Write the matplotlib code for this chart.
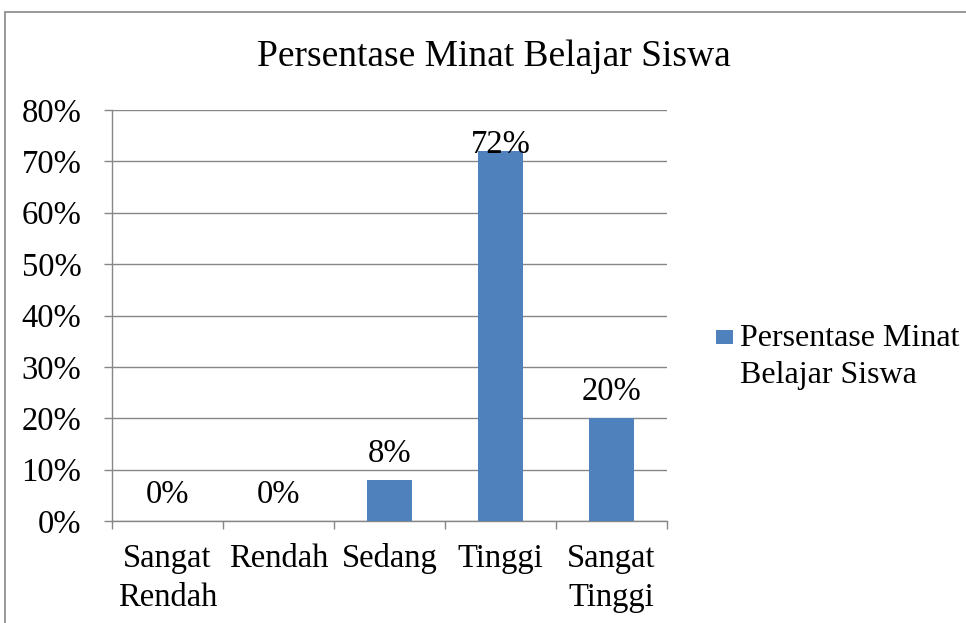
import matplotlib
matplotlib.use("Agg")
import matplotlib.pyplot as plt
from matplotlib.patches import Rectangle
from matplotlib.ticker import FuncFormatter, FixedLocator

categories = ["Sangat\nRendah", "Rendah", "Sedang", "Tinggi", "Sangat\nTinggi"]
values = [0.0, 0.0, 0.08, 0.72, 0.20]
value_labels = ["0%", "0%", "8%", "72%", "20%"]
series_name = "Persentase Minat Belajar Siswa"
legend_text = "Persentase Minat\nBelajar Siswa"
title = "Persentase Minat Belajar Siswa"
yticks = [0, 0.1, 0.2, 0.3, 0.4, 0.5, 0.6, 0.7, 0.8]

plt.rcParams["font.family"] = ["Liberation Serif", "DejaVu Serif"]
BAR = "#4F81BD"
GRID = "#868686"
FS = 23.5

fig = plt.figure(figsize=(9.66, 6.23), dpi=100)
fig.patch.set_facecolor("white")
# outer chart border
fig.patches.append(Rectangle((5 / 966, -0.1), 1.2, (623 - 12) / 623 + 0.1,
                             transform=fig.transFigure, fill=False,
                             edgecolor=GRID, lw=1.2))

ax = fig.add_axes([112 / 966, (623 - 521) / 623, (667 - 112) / 966, (521 - 110) / 623])
x = list(range(len(categories)))
ax.bar(x, values, width=0.4, color=BAR, zorder=3)
ax.set_xlim(-0.5, len(categories) - 0.5)
ax.set_ylim(0, 0.8)
ax.set_yticks(yticks)
ax.yaxis.set_major_formatter(FuncFormatter(lambda v, p: f"{v*100:.0f}%"))
ax.grid(axis="y", color=GRID, lw=1, zorder=0)
for s in ["top", "right"]:
    ax.spines[s].set_visible(False)
for s in ["left", "bottom"]:
    ax.spines[s].set_color(GRID)
    ax.spines[s].set_linewidth(1)
ax.tick_params(axis="y", length=6, color=GRID, width=1, pad=16, labelsize=FS)
ax.set_xticks(x)
ax.set_xticklabels(categories, fontsize=FS, linespacing=1.38)
ax.tick_params(axis="x", which="major", length=0, pad=16)
ax.xaxis.set_minor_locator(FixedLocator([i - 0.5 for i in range(len(categories) + 1)]))
ax.tick_params(axis="x", which="minor", length=6, color=GRID, width=1)

for xi, v, lab in zip(x, values, value_labels):
    off = 6 if v > 0.7 else 26
    ax.annotate(lab, (xi, v), xytext=(0, off * 0.72), textcoords="offset points",
                ha="center", va="center", fontsize=FS, zorder=4)

fig.text(494 / 966, 1 - 57 / 623, title, ha="center", va="center", fontsize=27)

# legend
fig.patches.append(Rectangle((716 / 966, 1 - 344 / 623), 17 / 966, 14 / 623,
                             transform=fig.transFigure, facecolor=BAR, edgecolor="none"))
fig.text(740 / 966, 1 - 357 / 623, legend_text, ha="left", va="center",
         fontsize=23, linespacing=1.38)

fig.savefig("out.png", dpi=100)
